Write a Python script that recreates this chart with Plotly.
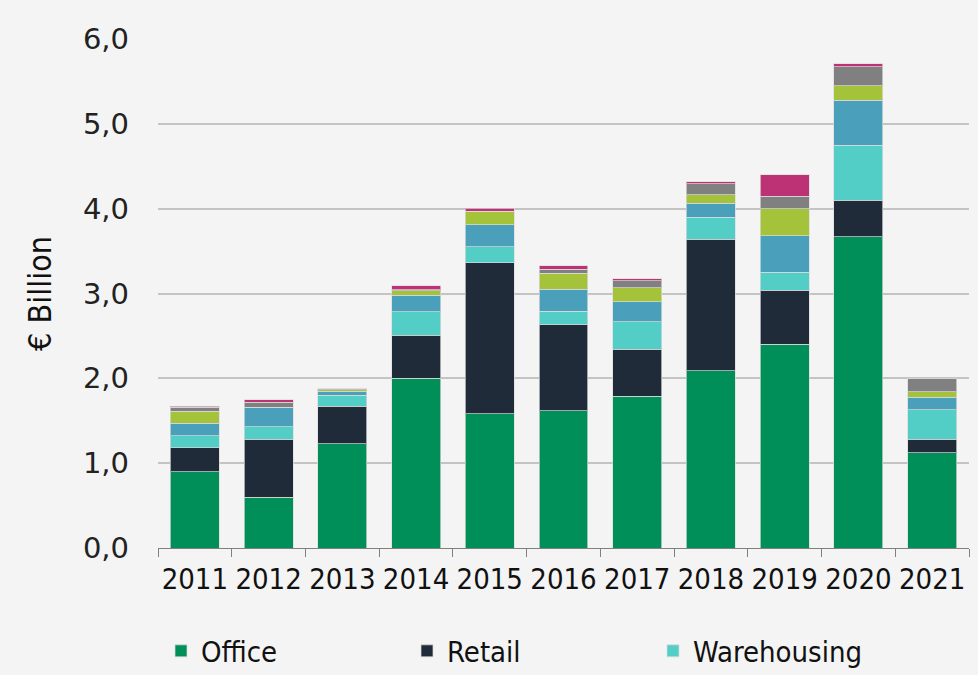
import plotly.graph_objects as go

years = ["2011", "2012", "2013", "2014", "2015", "2016", "2017", "2018", "2019", "2020", "2021"]
office = [0.90, 0.60, 1.23, 2.00, 1.58, 1.62, 1.79, 2.09, 2.40, 3.67, 1.12]
retail = [0.28, 0.68, 0.44, 0.51, 1.78, 1.01, 0.55, 1.55, 0.64, 0.43, 0.16]
warehousing = [0.145, 0.15, 0.13, 0.275, 0.19, 0.16, 0.33, 0.26, 0.21, 0.65, 0.35]
residential = [0.145, 0.23, 0.047, 0.195, 0.26, 0.26, 0.23, 0.165, 0.43, 0.53, 0.15]
hotel = [0.14, 0.0, 0.02, 0.05, 0.16, 0.19, 0.17, 0.10, 0.32, 0.17, 0.06]
other = [0.05, 0.06, 0.012, 0.014, 0.0, 0.045, 0.08, 0.13, 0.145, 0.225, 0.16]
mixed = [0.01, 0.025, 0.0, 0.05, 0.035, 0.045, 0.025, 0.02, 0.255, 0.035, 0.0]

series = [
    ("Office", office, "#008f58", True),
    ("Retail", retail, "#1f2b38", True),
    ("Warehousing", warehousing, "#52cec6", True),
    ("Residential", residential, "#4aa0bb", False),
    ("Hotel", hotel, "#a5c33a", False),
    ("Other", other, "#808080", False),
    ("Mixed use", mixed, "#bc3275", False),
]

narrow = "DejaVu Sans Condensed, Liberation Sans Narrow, sans-serif"

fig = go.Figure()
for name, vals, color, show in series:
    fig.add_trace(go.Bar(
        x=years, y=vals, name=name, showlegend=show,
        marker=dict(color=color, line=dict(color="rgba(220,220,220,0.7)", width=1)),
    ))

fig.update_layout(
    barmode="stack",
    bargap=0.336,
    width=978, height=675,
    margin=dict(l=158, r=9, t=39, b=127, autoexpand=False),
    paper_bgcolor="#f4f4f4",
    plot_bgcolor="#f4f4f4",
    separators=",.",
    showlegend=True,
    legend=dict(
        orientation="h",
        xref="container", yref="container",
        x=161 / 978, xanchor="left",
        y=1 - 651 / 675, yanchor="middle",
        entrywidthmode="pixels", entrywidth=201,
        font=dict(family=narrow, size=29, color="#111111"),
        bgcolor="rgba(0,0,0,0)",
        traceorder="normal",
    ),
)

fig.update_xaxes(
    automargin=False, tickangle=0,
    showline=True, linecolor="#808080", linewidth=1,
    ticks="outside", tickson="boundaries", ticklen=8, tickcolor="#808080",
    tickfont=dict(family=narrow, size=29, color="#111111"),
    ticklabelstandoff=5,
    showgrid=False,
)
fig.update_yaxes(
    automargin=False,
    range=[0, 6], dtick=1, tickformat=".1f",
    showgrid=True, gridcolor="#c4c4c4", gridwidth=1.5,
    zeroline=False, showline=False,
    tickfont=dict(family="DejaVu Sans, sans-serif", size=29, color="#222222"),
    ticklabelstandoff=28,
    title=dict(text="€ Billion", font=dict(family=narrow, size=32, color="#111111"), standoff=21),
)

fig.write_html(
    "out.html",
    config={"displayModeBar": False},
    post_script="document.body.style.margin='0';document.body.style.background='#f4f4f4';",
)
